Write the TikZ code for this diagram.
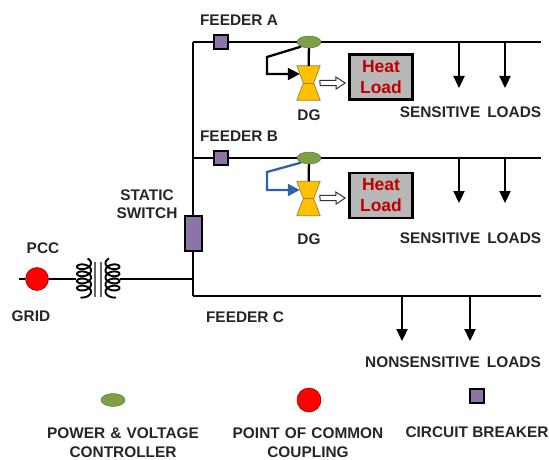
\documentclass[tikz,border=0pt]{standalone}
\usepackage{fontspec}
\usetikzlibrary{arrows.meta,shapes.geometric}
\newfontfamily\lblfont{Liberation Sans}
\definecolor{brk}{HTML}{8C73A8}
\definecolor{ctrl}{HTML}{7F9F45}
\definecolor{dgfill}{HTML}{FFC000}
\definecolor{dgedge}{HTML}{9A8030}
\definecolor{bluew}{HTML}{2E62A8}
\tikzset{
  x=1pt,y=-1pt,
  wire/.style={line width=2.3pt,draw=black},
  lbl/.style={font=\lblfont\bfseries\fontsize{15.4}{16}\selectfont,inner sep=0pt,text=black!85,align=center},
  breaker/.style={rectangle,draw=black,line width=2pt,fill=brk,inner sep=0pt,minimum size=14pt},
  switchbox/.style={rectangle,draw=black,line width=2pt,fill=brk,inner sep=0pt,minimum width=17pt,minimum height=35pt},
  controller/.style={ellipse,draw=ctrl!70!black,line width=.4pt,fill=ctrl,inner sep=0pt,minimum width=24pt,minimum height=12pt},
  pccdot/.style={circle,draw=black!50!red,line width=.5pt,fill=red,inner sep=0pt,minimum size=23pt},
  dgbox/.style={rectangle,inner sep=0pt,minimum width=23pt,minimum height=34pt},
  hourglass/.style={fill=dgfill,draw=dgedge,line width=.7pt,line join=round},
  heatbox/.style={rectangle,draw=black,line width=2.2pt,fill=black!28,inner sep=0pt,minimum width=63pt,minimum height=45pt,
     align=center,text=red!75!black,font=\lblfont\bfseries\fontsize{17.5}{21}\selectfont},
  flowbox/.style={rectangle,inner sep=0pt,minimum width=25pt,minimum height=12pt},
  flowshape/.style={draw=black!80,line width=1pt,fill=white,line join=miter},
  loadarrow/.style={wire,-{Triangle[length=12pt,width=11pt]}},
  fbk/.style={line width=2.3pt,line join=miter,-{Triangle[length=12pt,width=12pt]}},
  coil/.style={line width=1.9pt,draw=black},
}
\begin{document}
\begin{tikzpicture}
\useasboundingbox (0,0) rectangle (549,460);
% junctions and free ends
\coordinate (jA) at (193,42);
\coordinate (jB) at (193,158);
\coordinate (jC) at (193,296);
\coordinate (jT) at (193,279);
\coordinate (endA) at (541,42);
\coordinate (endB) at (541,158);
\coordinate (endC) at (541,296);
\coordinate (stub) at (19,279);
\coordinate (la1) at (459,42);\coordinate (la1e) at (459,88);
\coordinate (la2) at (505,42);\coordinate (la2e) at (505,88);
\coordinate (lb1) at (459,158);\coordinate (lb1e) at (459,203);
\coordinate (lb2) at (505,158);\coordinate (lb2e) at (505,203);
\coordinate (lc1) at (402,296);\coordinate (lc1e) at (402,341);
\coordinate (lc2) at (470,296);\coordinate (lc2e) at (470,341);
\coordinate (txL) at (76,279);
\coordinate (txR) at (120,279);
% equipment
\node[breaker] (brkA) at (221,42) {};
\node[breaker] (brkB) at (221,158) {};
\node[switchbox] (sw) at (193,233) {};
\node[controller] (ctlA) at (309,42) {};
\node[controller] (ctlB) at (309,158) {};
\node[pccdot] (pcc) at (37,279) {};
\node[dgbox] (dgA) at (308.5,83) {};
\node[dgbox] (dgB) at (308.5,198.5) {};
\foreach \d in {dgA,dgB}{
  \draw[hourglass] (\d.north west) -- (\d.north east) -- ([xshift=-6.5pt]\d.east) -- (\d.south east) -- (\d.south west) -- ([xshift=6.5pt]\d.west) -- cycle;
  \draw[dgedge,line width=.7pt] ([xshift=6.5pt]\d.west) -- ([xshift=-6.5pt]\d.east);
}
\node[heatbox] (heatA) at (381,77) {Heat\\Load};
\node[heatbox] (heatB) at (381,195.5) {Heat\\Load};
\node[flowbox] (flowA) at (332.5,83) {};
\node[flowbox] (flowB) at (332.5,198) {};
\foreach \f in {flowA,flowB}{
  \draw[flowshape] (\f.west) ++(0,-2.7) -- ++(16,0) -- ++(0,-3.3) -- (\f.east) -- ([xshift=-9pt,yshift=-6pt]\f.east) -- ++(0,-3.3) -- ++(-16,0) -- cycle;
}
% buses
\draw[wire] (jA) -- (brkA) -- (ctlA) -- (endA);
\draw[wire] (jB) -- (brkB) -- (ctlB) -- (endB);
\draw[wire] (jC) -- (endC);
\draw[wire] (jA) -- (sw);
\draw[wire] (sw) -- (jC);
\draw[wire] (stub) -- (pcc);
\draw[wire] (pcc) -- (txL);
\draw[wire] (txR) -- (jT);
\draw[wire] (ctlA) -- (dgA);
\draw[wire] (ctlB) -- (dgB);
% feedback
\draw[fbk,draw=black] (ctlA.210) -- (267,57) -- (267,74) -- ([xshift=3pt,yshift=9pt]dgA.west);
\draw[fbk,draw=bluew] (ctlB.210) -- (267,172) -- (267,190) -- ([xshift=3pt,yshift=8.5pt]dgB.west);
% loads
\foreach \a in {la1,la2,lb1,lb2,lc1,lc2}{\draw[loadarrow] (\a) -- (\a e);}
% transformer
\draw[coil,smooth] plot[domain=-60:1560,samples=140] ({84+7*cos(\x)},{262+(\x+60)/1620*32+4*sin(\x)});
\draw[coil,smooth] plot[domain=-60:1560,samples=140] ({112.5-7*cos(\x)},{262+(\x+60)/1620*32+4*sin(\x)});
\draw[black!60,line width=1.2pt] (95,262) -- (95,297);
\draw[black!60,line width=1.2pt] (101,262) -- (101,297);
% labels
\node[lbl] (tA) at (239,20) {FEEDER A};
\node[lbl] (tB) at (239,136) {FEEDER B};
\node[lbl] (tC) at (245,317) {FEEDER C};
\node[lbl] (tD1) at (309,115) {DG};
\node[lbl] (tD2) at (309,239) {DG};
\node[lbl] (tS1) at (470.5,112) {SENSITIVE\hspace{7pt}LOADS};
\node[lbl] (tS2) at (470.5,238) {SENSITIVE\hspace{7pt}LOADS};
\node[lbl] (tN) at (453,362) {NONSENSITIVE\hspace{7pt}LOADS};
\node[lbl,text width=80pt,font=\lblfont\bfseries\fontsize{15.4}{18}\selectfont] (tSw) at (147,204) {STATIC\\SWITCH};
\node[lbl] (tP) at (43,248) {PCC};
\node[lbl] (tG) at (31,316) {GRID};
% legend
\node[controller,minimum width=24pt,minimum height=13pt] (legC) at (113,400) {};
\node[pccdot,minimum size=24pt] (legP) at (309,400) {};
\node[breaker,minimum size=14pt] (legB) at (477,396) {};
\node[lbl,text width=170pt,font=\lblfont\bfseries\fontsize{15.4}{19}\selectfont] (t1) at (123,442.5) {POWER \& VOLTAGE\\CONTROLLER};
\node[lbl,text width=170pt,font=\lblfont\bfseries\fontsize{15.4}{19}\selectfont] (t2) at (308,442.5) {POINT OF COMMON\\COUPLING};
\node[lbl] (t3) at (477,432) {CIRCUIT BREAKER};
\end{tikzpicture}
\end{document}
